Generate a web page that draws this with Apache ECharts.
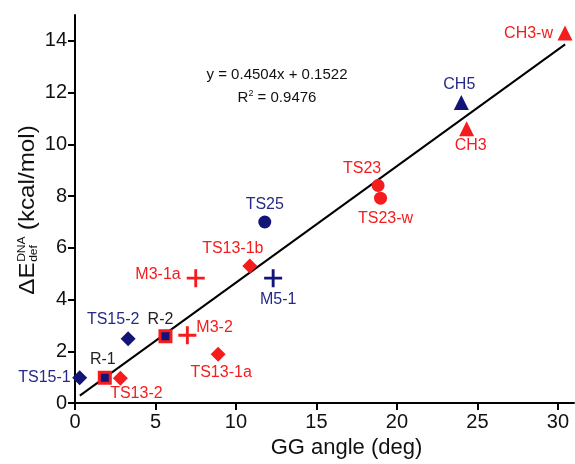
<!DOCTYPE html>
<html>

<head>
    <meta http-equiv="Content-Type" content="text/html; charset=utf-8" />
    <title>GG angle vs deformation energy</title>
    <style type="text/css">
    body,
    html {
        width: 100%;
        height: 100%;
        margin: 0;
        overflow: hidden;
        background: #fff;
    }

    #container {
        width: 575px;
        height: 464px;
    }
    </style>
</head>

<body>
    <div id="container"></div>
</body>
<script src="https://cdn.jsdelivr.net/npm/echarts@6/dist/echarts.min.js"></script>
<script>
// data: [GG angle, dE]
var navyDiamonds = [[0.29, 0.98], [3.3, 2.49]];
var navyDiamondNames = ['TS15-1', 'TS15-2'];
var redDiamonds = [[2.82, 0.96], [8.89, 1.89], [10.86, 5.3]];
var redDiamondNames = ['TS13-2', 'TS13-1a', 'TS13-1b'];
var squares = [[1.85, 0.98], [5.62, 2.58]];
var squareNames = ['R-1', 'R-2'];
var redCrosses = [[6.98, 2.62], [7.5, 4.83]];
var redCrossNames = ['M3-2', 'M3-1a'];
var navyCrosses = [[12.31, 4.83]];
var navyCrossNames = ['M5-1'];
var navyCircles = [[11.79, 7.0]];
var navyCircleNames = ['TS25'];
var redCircles = [[18.83, 8.41], [18.98, 7.92]];
var redCircleNames = ['TS23', 'TS23-w'];
var navyTriangles = [[24.0, 11.62]];
var navyTriangleNames = ['CH5'];
var redTriangles = [[24.33, 10.6], [30.44, 14.3]];
var redTriangleNames = ['CH3', 'CH3-w'];

var fitSlope = 0.4504;
var fitIntercept = 0.1522;
var fitR2 = 0.9476;
var fitRange = [0.3, 30.45];

var xTicks = [0, 5, 10, 15, 20, 25, 30];
var yTicks = [0, 2, 4, 6, 8, 10, 12, 14];

var RED = '#f41c1c';
var NAVY = '#121478';
var NAVY_TEXT = '#262a86';
var FONT = 'Liberation Sans, Arial, sans-serif';

// label placement: [dx, dy, align] relative to the marker centre
var labelPlace = {
    'TS15-1': [-9, 0, 'right'],
    'TS15-2': [-15, -19, 'center'],
    'TS13-2': [16, 15, 'center'],
    'TS13-1a': [3, 18, 'center'],
    'TS13-1b': [-17, -17, 'center'],
    'R-1': [-2, -18, 'center'],
    'R-2': [-5, -17, 'center'],
    'M3-2': [9, -8, 'left'],
    'M3-1a': [-15, -4, 'right'],
    'M5-1': [5, 21, 'center'],
    'TS25': [0, -17, 'center'],
    'TS23': [-16, -17, 'center'],
    'TS23-w': [5, 20, 'center'],
    'CH5': [-2, -18, 'center'],
    'CH3': [4, 17, 'center'],
    'CH3-w': [-12, 0, 'right']
};

var crossPath = 'path://M4.2,0H5.8V4.2H10V5.8H5.8V10H4.2V5.8H0V4.2H4.2Z';

function points(values, names, textColor) {
    return values.map(function(v, i) {
        var p = labelPlace[names[i]];
        return {
            value: v,
            name: names[i],
            label: {
                show: true,
                position: 'inside',
                formatter: names[i],
                offset: [p[0], p[1]],
                align: p[2],
                verticalAlign: 'middle',
                color: textColor,
                fontSize: 16,
                fontFamily: FONT
            }
        };
    });
}

function scatter(values, names, symbol, size, color, textColor, extra) {
    var s = {
        type: 'scatter',
        symbol: symbol,
        symbolSize: size,
        itemStyle: { color: color, opacity: 1 },
        data: points(values, names, textColor),
        z: 3
    };
    if (extra) s.itemStyle = Object.assign(s.itemStyle, extra);
    return s;
}

var fitLine = fitRange.map(function(x) { return [x, fitSlope * x + fitIntercept]; });

// y-axis title: measure pieces so sub/superscripts stack after "ΔE"
var ctx = document.createElement('canvas').getContext('2d');
function textW(str, size) {
    ctx.font = size + 'px ' + FONT;
    return ctx.measureText(str).width;
}
var tMain = 22, tSmall = 11;
var wDE = textW('ΔE', tMain);
var wSup = Math.max(textW('DNA', tSmall), textW('def', tSmall));
var wRest = textW(' (kcal/mol)', tMain);
var totalW = wDE + wSup + wRest;

var yTitle = {
    type: 'group',
    x: 28,
    y: 210,
    rotation: Math.PI / 2,
    scaleX: 1.1,
    children: [
        { type: 'text', x: -totalW / 2, y: 0, style: { text: 'ΔE', font: tMain + 'px ' + FONT, fill: '#111', verticalAlign: 'middle' } },
        { type: 'text', x: -totalW / 2 + wDE + 0.5, y: -6, style: { text: 'DNA', font: tSmall + 'px ' + FONT, fill: '#111', verticalAlign: 'middle' } },
        { type: 'text', x: -totalW / 2 + wDE + 0.5, y: 6, style: { text: 'def', font: tSmall + 'px ' + FONT, fill: '#111', verticalAlign: 'middle' } },
        { type: 'text', x: -totalW / 2 + wDE + wSup, y: 0, style: { text: ' (kcal/mol)', font: tMain + 'px ' + FONT, fill: '#111', verticalAlign: 'middle' } }
    ]
};

var chartDom = document.getElementById('container');
var myChart = echarts.init(chartDom);
var option;

option = {
    backgroundColor: '#fff',
    animation: false,
    grid: { left: 75, right: 1, top: 15, bottom: 57 },
    xAxis: {
        type: 'value',
        min: 0,
        max: 31,
        name: 'GG angle (deg)',
        nameLocation: 'middle',
        nameGap: 31,
        nameTextStyle: { fontSize: 22, color: '#111', fontFamily: FONT, padding: [0, 0, 0, 44] },
        axisLine: { onZero: false, lineStyle: { color: '#000', width: 2 } },
        axisTick: { customValues: xTicks, length: 7, lineStyle: { color: '#000', width: 2 } },
        axisLabel: { customValues: xTicks, fontSize: 20, color: '#111', fontFamily: FONT, margin: 9 },
        splitLine: { show: false }
    },
    yAxis: {
        type: 'value',
        min: 0,
        max: 15,
        axisLine: { show: true, onZero: false, lineStyle: { color: '#000', width: 2 } },
        axisTick: { show: true, customValues: yTicks, length: 7, lineStyle: { color: '#000', width: 2 } },
        axisLabel: { customValues: yTicks, fontSize: 20, color: '#111', fontFamily: FONT, margin: 8 },
        splitLine: { show: false }
    },
    graphic: [
        yTitle,
        {
            type: 'text',
            x: 277,
            y: 75,
            style: {
                text: 'y = ' + fitSlope + 'x + ' + fitIntercept,
                font: '15px ' + FONT,
                fill: '#111',
                align: 'center',
                verticalAlign: 'middle'
            }
        },
        {
            type: 'text',
            x: 277,
            y: 98,
            style: {
                text: '{a|R}{s|2}{a| = ' + fitR2 + '}',
                align: 'center',
                verticalAlign: 'middle',
                rich: {
                    a: { font: '15px ' + FONT, fill: '#111' },
                    s: { font: '9px ' + FONT, fill: '#111', padding: [0, 0, 9, 0] }
                }
            }
        }
    ],
    series: [
        {
            type: 'line',
            data: fitLine,
            symbol: 'none',
            lineStyle: { color: '#000', width: 2 },
            z: 2,
            silent: true
        },
        scatter(navyDiamonds, navyDiamondNames, 'diamond', 15, NAVY, NAVY_TEXT),
        scatter(redDiamonds, redDiamondNames, 'diamond', 15, RED, RED),
        scatter(squares, squareNames, 'rect', 11, NAVY, '#222', { borderColor: RED, borderWidth: 3 }),
        scatter(redCrosses, redCrossNames, crossPath, 18, RED, RED),
        scatter(navyCrosses, navyCrossNames, crossPath, 18, NAVY, NAVY_TEXT),
        scatter(navyCircles, navyCircleNames, 'circle', 13, NAVY, NAVY_TEXT),
        scatter(redCircles, redCircleNames, 'circle', 13, RED, RED),
        scatter(navyTriangles, navyTriangleNames, 'triangle', 15, NAVY, NAVY_TEXT),
        scatter(redTriangles, redTriangleNames, 'triangle', 15, RED, RED)
    ]
};

option && myChart.setOption(option);
</script>

</html>
